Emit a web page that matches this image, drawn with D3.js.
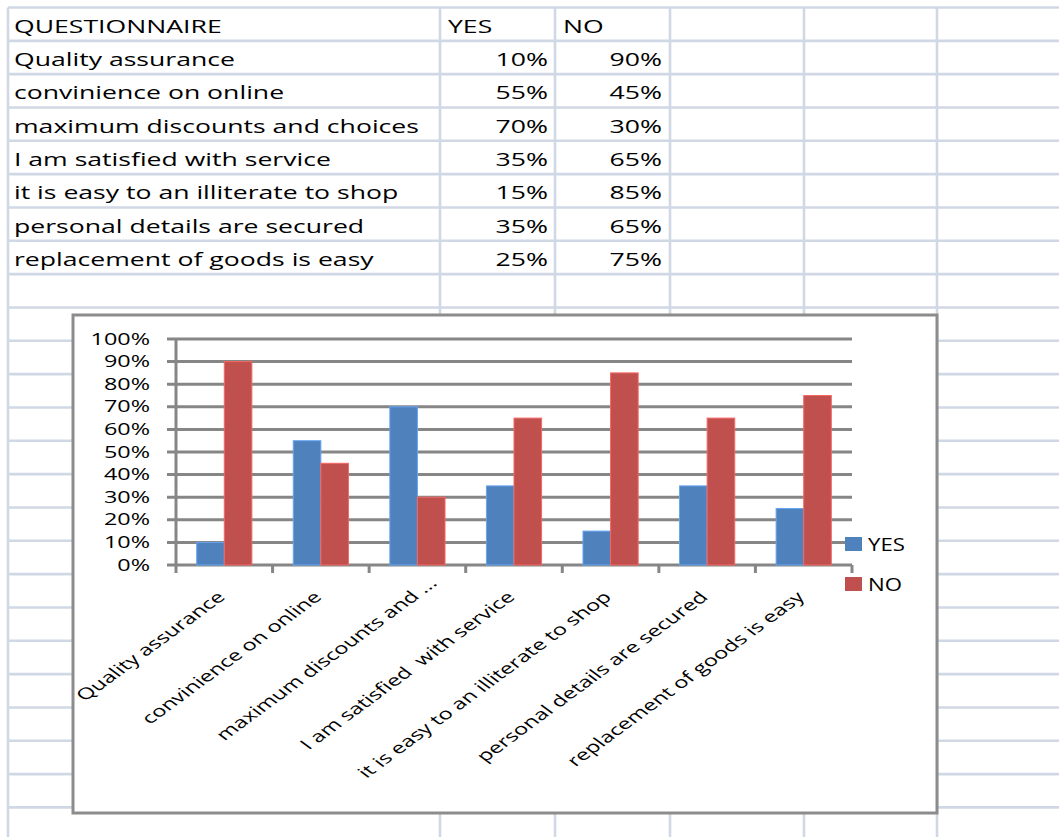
<!DOCTYPE html>
<html>
<head>
<meta charset="utf-8">
<script src="https://cdn.jsdelivr.net/npm/d3@7"></script>
<style>
  html, body { margin: 0; padding: 0; background: #ffffff; }
  svg { display: block; }
  text { font-family: "Open Sans", Lato, sans-serif; fill: #000; }
</style>
</head>
<body>
<svg id="sheet" width="1059" height="837"></svg>
<script>
// Survey answers
const categories = [
  "Quality assurance",
  "convinience on online",
  "maximum discounts and choices",
  "I am satisfied  with service",
  "it is easy to an illiterate to shop",
  "personal details are secured",
  "replacement of goods is easy"
];
const yesValues = [0.10, 0.55, 0.70, 0.35, 0.15, 0.35, 0.25];
const noValues  = [0.90, 0.45, 0.30, 0.65, 0.85, 0.65, 0.75];
const seriesNames = ["YES", "NO"];
const seriesColors = ["#4f81bd", "#c0504d"];
const headerLabel = "QUESTIONNAIRE";
const yTickValues = [0, 0.1, 0.2, 0.3, 0.4, 0.5, 0.6, 0.7, 0.8, 0.9, 1.0];
// Axis label shown (truncated) for the long third category
const axisLabelOverride = { "maximum discounts and choices": "maximum discounts and ..." };

const W = 1059, H = 837;
const svg = d3.select("#sheet");
const pct = d3.format(".0%");

// ---------- worksheet grid ----------
const gridColor = "#d0d7e5";
const rowTop = 7.5, rowH = 33.33;
const colEdges = [8, 440, 555, 670, 804, 937];
const rowLines = d3.range(0, 26).map(i => rowTop + i * rowH).filter(y => y < H);

const grid = svg.append("g");
grid.selectAll("line.row").data(rowLines).join("line")
  .attr("x1", colEdges[0]).attr("x2", W)
  .attr("y1", d => d).attr("y2", d => d)
  .attr("stroke", gridColor).attr("stroke-width", 2.6);
grid.selectAll("line.col").data(colEdges).join("line")
  .attr("x1", d => d).attr("x2", d => d)
  .attr("y1", rowTop).attr("y2", H)
  .attr("stroke", gridColor).attr("stroke-width", 2.6);

// ---------- cell text ----------
const cellFont = 19, cellSX = 1.40;
const baseY = i => rowTop + rowH * (i + 1) - 8;
function cellText(x, y, str, anchor) {
  svg.append("text")
    .attr("transform", `translate(${x},${y}) scale(${cellSX},1)`)
    .attr("text-anchor", anchor)
    .style("font-size", cellFont + "px")
    .text(str);
}
cellText(14, baseY(0), headerLabel, "start");
cellText(448, baseY(0), seriesNames[0], "start");
cellText(563, baseY(0), seriesNames[1], "start");
categories.forEach((c, i) => {
  cellText(14, baseY(i + 1), c.replace(/\s+/g, " "), "start");
  cellText(548, baseY(i + 1), pct(yesValues[i]), "end");
  cellText(662, baseY(i + 1), pct(noValues[i]), "end");
});

// ---------- embedded chart ----------
const frame = { x: 73, y: 315, w: 864, h: 498 };
svg.append("rect")
  .attr("x", frame.x).attr("y", frame.y)
  .attr("width", frame.w).attr("height", frame.h)
  .attr("fill", "#ffffff")
  .attr("stroke", "#8c8c8c").attr("stroke-width", 3);

const plot = { left: 176, right: 852, top: 339, bottom: 565 };
const x = d3.scaleBand().domain(categories).range([plot.left, plot.right]).padding(0);
const y = d3.scaleLinear().domain([0, 1]).range([plot.bottom, plot.top]);
const axisGray = "#868686";

const chart = svg.append("g");

// horizontal gridlines, with ticks reaching left of the axis
chart.selectAll("line.grid").data(yTickValues).join("line")
  .attr("x1", plot.left - 9).attr("x2", plot.right)
  .attr("y1", d => y(d)).attr("y2", d => y(d))
  .attr("stroke", axisGray).attr("stroke-width", 3);

// value axis line
chart.append("line")
  .attr("x1", plot.left).attr("x2", plot.left)
  .attr("y1", y(1)).attr("y2", y(0))
  .attr("stroke", axisGray).attr("stroke-width", 3);

// category tick marks at band boundaries
const tickXs = categories.map(c => x(c)).concat([plot.right]);
chart.selectAll("line.xtick").data(tickXs).join("line")
  .attr("x1", d => d).attr("x2", d => d)
  .attr("y1", y(0)).attr("y2", y(0) + 8)
  .attr("stroke", axisGray).attr("stroke-width", 3);

// y tick labels
const ySX = 1.52, yFont = 15.4;
chart.selectAll("text.ylab").data(yTickValues).join("text")
  .attr("transform", d => `translate(150,${y(d) + 5.5}) scale(${ySX},1)`)
  .attr("text-anchor", "end")
  .style("font-size", yFont + "px")
  .text(d => pct(d));

// bars
const barW = x.bandwidth() / 3.5;
const series = [yesValues, noValues];
series.forEach((vals, s) => {
  chart.selectAll(`rect.s${s}`).data(categories).join("rect")
    .attr("x", c => x(c) + barW * 0.75 + s * barW)
    .attr("y", (c, i) => y(vals[i]))
    .attr("width", barW)
    .attr("height", (c, i) => y(0) - y(vals[i]))
    .attr("fill", seriesColors[s])
    .attr("stroke", d3.color(seriesColors[s]).brighter(0.7))
    .attr("stroke-width", 1);
});

// rotated category labels
const labSX = 1.36, labInner = 1.15, labFont = 15.4;
chart.selectAll("text.xlab").data(categories).join("text")
  .attr("transform", c => `translate(${x(c) + x.bandwidth() / 2 + 2},598) scale(${labSX},1) rotate(-45) scale(${labInner},1)`)
  .attr("x", c => axisLabelOverride[c] ? 17 : 0)
  .attr("text-anchor", "end")
  .style("font-size", labFont + "px")
  .style("white-space", "pre")
  .text(c => axisLabelOverride[c] || c);

// legend
const legY = [537, 577];
const legend = chart.selectAll("g.leg").data(seriesNames).join("g")
  .attr("transform", (d, i) => `translate(845,${legY[i]})`);
legend.append("rect")
  .attr("width", 17).attr("height", 14)
  .attr("fill", (d, i) => seriesColors[i]);
legend.append("text")
  .attr("transform", `translate(23,14) scale(1.2,1)`)
  .style("font-size", "18.5px")
  .text(d => d);
</script>
</body>
</html>
